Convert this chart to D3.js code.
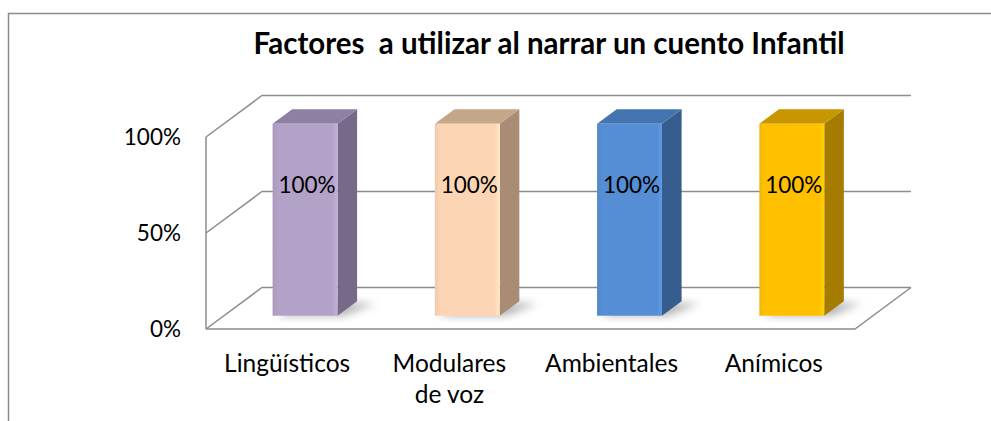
<!DOCTYPE html>
<html lang="es">
<head>
<meta charset="UTF-8">
<title>Factores a utilizar al narrar un cuento Infantil</title>
<script src="https://cdn.jsdelivr.net/npm/d3@7/dist/d3.min.js"></script>
<style>
  body { margin: 0; background: #fff; }
  text { font-family: Lato, "Open Sans", sans-serif; fill: #000; }
</style>
</head>
<body>
<div id="chart"></div>
<script>
// data
const categories = ["Lingüísticos", "Modulares de voz", "Ambientales", "Anímicos"];
const labelLines = [["Lingüísticos"], ["Modulares", "de voz"], ["Ambientales"], ["Anímicos"]];
const values = [1, 1, 1, 1];
const tickValues = [0, 0.5, 1];
const tickLabels = ["0%", "50%", "100%"];
const frontColors = ["#b3a2c7", "#fcd5b5", "#558ed5", "#ffc000"];
const sideColors = ["#76698a", "#a88c74", "#375d8e", "#a67c00"];
const topColors = ["#8e7fa4", "#c4a688", "#4575b0", "#c79600"];

const width = 991, height = 421;
const depthX = 56, depthY = -41.5;   // floor depth (front -> back)
const f0 = 0.32, f1 = 0.67;           // bar front/back position in the depth

const svg = d3.select("#chart").append("svg")
  .attr("width", width).attr("height", height);

// outer border
svg.append("path")
  .attr("d", "M8.5,421 V13.5 H991")
  .attr("fill", "none").attr("stroke", "#8c8c8c").attr("stroke-width", 1.5);

svg.append("text")
  .attr("x", 549).attr("y", 54)
  .attr("text-anchor", "middle")
  .attr("font-weight", "bold").attr("font-size", 29.5)
  .attr("xml:space", "preserve")
  .text("Factores  a utilizar al narrar un cuento Infantil");

const x = d3.scaleBand().domain(categories).range([206, 855])
  .paddingInner(0.6).paddingOuter(0.3);
const y = d3.scaleLinear().domain([0, 1]).range([329, 137]);

const defs = svg.append("defs");
defs.append("filter").attr("id", "blur").attr("x", -0.5).attr("y", -0.5)
  .attr("width", 2).attr("height", 2)
  .append("feGaussianBlur").attr("stdDeviation", 4);

frontColors.forEach((c, i) => {
  const g = defs.append("linearGradient").attr("id", "fg" + i)
    .attr("x1", 0).attr("x2", 1).attr("y1", 0).attr("y2", 0);
  g.append("stop").attr("offset", 0).attr("stop-color", d3.color(c).darker(0.15));
  g.append("stop").attr("offset", 0.08).attr("stop-color", c);
  g.append("stop").attr("offset", 0.92).attr("stop-color", c);
  g.append("stop").attr("offset", 1).attr("stop-color", d3.color(c).brighter(0.25));
});

const x0 = x.range()[0], x1 = x.range()[1];
const grid = svg.append("g").attr("fill", "none")
  .attr("stroke", "#8c8c8c").attr("stroke-width", 1.5);

// back wall gridlines and side wall diagonals
tickValues.forEach(t => {
  grid.append("path")
    .attr("d", `M${x0},${y(t)} L${x0 + depthX},${y(t) + depthY} H${x1 + depthX}`);
});
// left wall vertical
grid.append("path").attr("d", `M${x0},${y(0)} V${y(1)}`);
// floor front and right edge
grid.append("path")
  .attr("d", `M${x0},${y(0)} H${x1} L${x1 + depthX},${y(0) + depthY}`);

// y axis labels
svg.append("g").selectAll("text").data(tickValues).join("text")
  .attr("x", 181).attr("y", d => y(d))
  .attr("dy", "0.35em").attr("text-anchor", "end")
  .attr("font-size", 22.5)
  .text((d, i) => tickLabels[i]);

// bars
const bars = svg.append("g").selectAll("g").data(categories).join("g");
const bw = x.bandwidth();

bars.each(function(c, i) {
  const g = d3.select(this);
  const fx = x(c) + depthX * f0, fy = depthY * f0;
  const bx = depthX * (f1 - f0), by = depthY * (f1 - f0);
  const yb = y(0) + fy, yt = y(values[i]) + fy;

  // shadow on the floor
  g.append("path")
    .attr("d", `M${fx + 4},${yb} H${fx + bw + 6} L${fx + bw + bx + 18},${yb + by + 2} L${fx + bx + 4},${yb + by + 2} Z`)
    .attr("fill", "#6f6f6f").attr("opacity", 0.55).attr("filter", "url(#blur)");

  // side face
  g.append("path")
    .attr("d", `M${fx + bw},${yb} L${fx + bw + bx},${yb + by} V${yt + by} L${fx + bw},${yt} Z`)
    .attr("fill", sideColors[i]);
  // top face
  g.append("path")
    .attr("d", `M${fx},${yt} L${fx + bx},${yt + by} H${fx + bw + bx} L${fx + bw},${yt} Z`)
    .attr("fill", topColors[i]);
  // front face
  g.append("rect")
    .attr("x", fx).attr("y", yt).attr("width", bw).attr("height", yb - yt)
    .attr("fill", `url(#fg${i})`);

  // value label
  g.append("text")
    .attr("x", fx + bw / 2 + 2).attr("y", y(values[i] * 0.68) + fy)
    .attr("dy", "0.35em")
    .attr("text-anchor", "middle").attr("font-size", 22.5)
    .text(d3.format(".0%")(values[i]));
});

// category labels
svg.append("g").selectAll("text").data(categories).join("text")
  .attr("x", d => x(d) + bw / 2)
  .attr("y", 372)
  .attr("text-anchor", "middle").attr("font-size", 24.5)
  .each(function(d, i) {
    d3.select(this).selectAll("tspan").data(labelLines[i]).join("tspan")
      .attr("x", x(d) + bw / 2)
      .attr("dy", (l, j) => j === 0 ? 0 : 31)
      .text(l => l);
  });
</script>
</body>
</html>
